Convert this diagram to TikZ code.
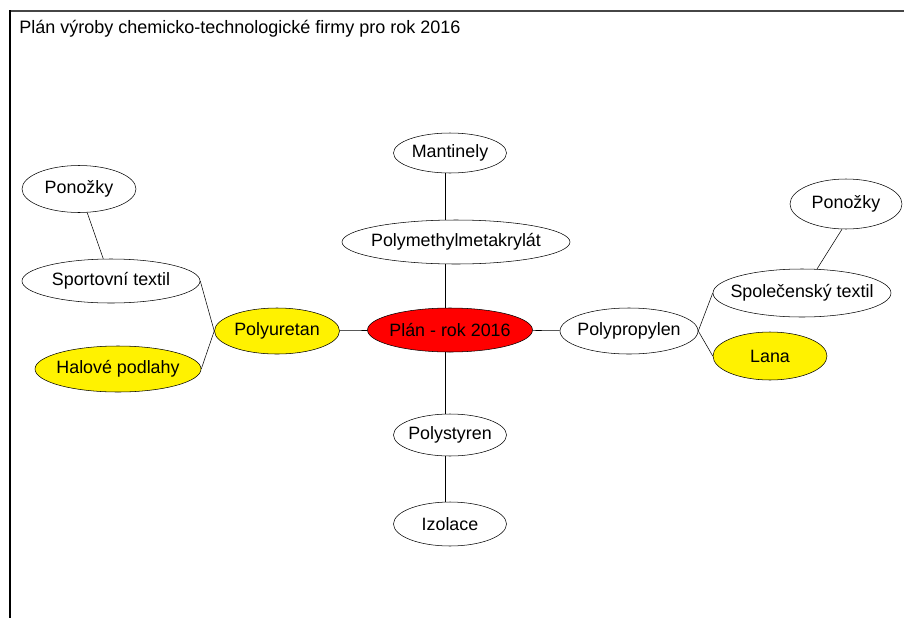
\documentclass[tikz,border=0pt]{standalone}
\usepackage{fontspec}
\setmainfont{Liberation Sans}
\usetikzlibrary{shapes.geometric}

\tikzset{
  bubble/.style={draw, ellipse, inner xsep=-20pt, inner ysep=-8pt, font=\fontsize{13.4}{15}\selectfont},
  hot/.style={fill=red},
  warm/.style={fill=yellow},
}

\begin{document}
\begin{tikzpicture}[x=0.75pt,y=0.75pt,yscale=-1,xscale=1]
\useasboundingbox (0,0) rectangle (904,618);
%Frame
\draw [color={rgb, 255:red, 70; green, 70; blue, 70 }, line width=1.5pt] (10,10.5) -- (904,10.5);
\draw [line width=1.2pt] (10,10) -- (10,618);
\node [anchor=base west, inner sep=0pt, font=\fontsize{13.5}{15}\selectfont] (title) at (19,33) {Plán výroby chemicko-technologické firmy pro rok 2016};
%Centre
\node [bubble, hot, minimum width=123.75pt, minimum height=33pt] (plan) at (450,330) {Plán - rok 2016};
%Upper branch
\node [bubble, minimum width=171pt, minimum height=33pt] (pmma) at (456,242) {Polymethylmetakrylát};
\node [bubble, minimum width=84.75pt, minimum height=30pt] (mant) at (450,153) {Mantinely};
%Lower branch
\node [bubble, minimum width=84.75pt, minimum height=31.5pt] (ps) at (450,435) {Polystyren};
\node [bubble, minimum width=84.75pt, minimum height=33pt] (izol) at (450,524) {Izolace};
%Left branch
\node [bubble, warm, minimum width=93.75pt, minimum height=34.5pt] (pur) at (277,331) {Polyuretan};
\node [bubble, minimum width=133.5pt, minimum height=33pt] (sport) at (111,281) {Sportovní textil};
\node [bubble, warm, minimum width=124.5pt, minimum height=34.5pt] (hala) at (118,369) {Halové podlahy};
\node [bubble, minimum width=85.5pt, minimum height=35.25pt] (ponl) at (79,189) {Ponožky};
%Right branch
\node [bubble, minimum width=103.5pt, minimum height=34.5pt] (pp) at (629,331) {Polypropylen};
\node [bubble, minimum width=133.5pt, minimum height=36pt] (spol) at (802,293) {Společenský textil};
\node [bubble, warm, minimum width=85.5pt, minimum height=36pt] (lana) at (770,356) {Lana};
\node [bubble, minimum width=84pt, minimum height=37.5pt] (ponr) at (846,204) {Ponožky};
%Connectors
\draw ([xshift=-3.75pt]mant.south) -- ([xshift=-3.75pt]pmma.north -| mant.south);
\draw ([xshift=-3.75pt]pmma.south -| plan.north) -- ([xshift=-3.75pt]plan.north);
\draw ([xshift=-3.75pt]plan.south) -- ([xshift=-3.75pt]ps.north);
\draw ([xshift=-3.75pt]ps.south) -- ([xshift=-3.75pt]izol.north);
\draw (pur) -- (plan);
\draw (plan) -- (pp);
\draw (pur.west) -- (sport.east);
\draw (pur.west) -- (hala.east);
\draw (pp.east) -- (spol.west);
\draw (pp.east) -- (lana.west);
\draw (sport) -- (ponl);
\draw (spol.58) -- (ponr.-99);
\end{tikzpicture}
\end{document}
